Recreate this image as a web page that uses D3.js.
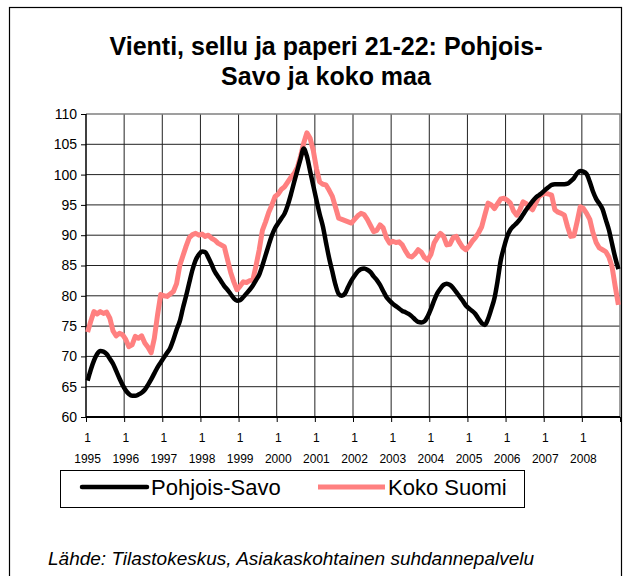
<!DOCTYPE html>
<html>
<head>
<meta charset="utf-8">
<script src="https://cdn.jsdelivr.net/npm/d3@7"></script>
<style>
  body { margin: 0; background: #fff; }
  svg { font-family: "Liberation Sans", Arial, sans-serif; }
  .axis path { display: none; }
  .axis text { fill: #000; }
</style>
</head>
<body>
<svg width="626" height="576"></svg>
<script>
// Data: monthly index values, Jan 1995 - Dec 2008
var years = [1995, 1996, 1997, 1998, 1999, 2000, 2001, 2002, 2003, 2004, 2005, 2006, 2007, 2008];
var monthLabel = "1";
var yTicks = [60, 65, 70, 75, 80, 85, 90, 95, 100, 105, 110];
var seriesNames = ["Pohjois-Savo", "Koko Suomi"];

var pohjoisSavo = [
  66.0, 67.8, 69.3, 70.4, 70.9, 70.8, 70.4, 69.6, 68.8, 67.6, 66.4, 65.3,
  64.4, 63.8, 63.5, 63.5, 63.7, 64.0, 64.5, 65.3, 66.2, 67.2, 68.2, 69.0,
  69.8, 70.6, 71.4, 72.8, 74.4, 75.8, 78.0, 80.0, 82.2, 84.3, 85.9, 86.8,
  87.3, 87.2, 86.3, 85.2, 84.0, 83.2, 82.4, 81.6, 81.0, 80.3, 79.6, 79.2,
  79.3, 79.8, 80.4, 81.0, 81.7, 82.6, 83.5, 85.0, 86.7, 88.4, 90.0, 91.2,
  92.0, 92.8, 93.6, 95.0, 96.8, 98.8, 100.7, 102.6, 104.3, 103.0, 100.6, 98.2,
  95.8, 93.5, 91.5, 88.8, 86.2, 84.0, 81.8, 80.3, 80.0, 80.4, 81.5, 82.5,
  83.3, 84.0, 84.4, 84.5, 84.3, 83.9, 83.2, 82.6, 81.8, 80.8, 79.8, 79.2,
  78.7, 78.3, 77.9, 77.5, 77.3, 77.0, 76.6, 76.1, 75.7, 75.6, 75.8, 76.6,
  77.8, 79.2, 80.4, 81.2, 81.8, 82.0, 81.8, 81.3, 80.6, 79.9, 79.2, 78.4,
  77.9, 77.5, 77.0, 76.2, 75.5, 75.2, 76.2, 77.8, 79.6, 82.5, 85.9, 88.0,
  89.8, 90.9, 91.5, 92.0, 92.6, 93.4, 94.2, 94.9, 95.6, 96.2, 96.6, 97.0,
  97.5, 97.9, 98.3, 98.4, 98.4, 98.4, 98.4, 98.5, 98.9, 99.4, 100.2, 100.6,
  100.5, 100.1, 98.8, 97.2, 96.0, 95.2, 94.3, 92.6, 90.9, 88.6, 86.3, 84.4
];

var kokoSuomi = [
  74.0, 75.8, 77.4, 77.0, 77.4, 77.1, 77.3, 76.3, 74.2, 73.4, 73.8, 73.6,
  72.8, 71.6, 71.9, 73.3, 73.0, 73.4, 72.2, 71.5, 70.6, 73.0, 76.8, 80.2,
  80.0, 79.9, 80.3, 80.7, 82.0, 85.0, 86.6, 88.2, 89.6, 90.1, 90.3, 90.0,
  90.2, 89.8, 90.0, 89.5, 89.2, 88.7, 88.4, 88.1, 86.0, 83.9, 82.3, 81.0,
  81.6, 82.3, 82.2, 82.5, 82.6, 85.0, 87.6, 90.8, 92.2, 93.8, 95.0, 96.4,
  96.8, 97.6, 98.0, 98.8, 99.6, 100.2, 101.2, 103.0, 105.2, 106.9, 106.0, 104.0,
  101.0, 98.8, 98.4, 98.3, 97.4, 96.4, 94.6, 92.8, 92.6, 92.4, 92.2, 92.0,
  92.6, 93.2, 93.6, 93.4, 92.6, 91.6, 90.6, 90.8, 91.7, 91.2, 89.6, 88.7,
  89.0, 88.8, 88.9, 88.4, 87.4, 86.6, 86.4, 86.9, 87.6, 87.2, 86.3, 85.9,
  86.8, 88.7, 89.6, 90.3, 89.8, 88.4, 88.5, 89.6, 89.8, 88.8, 88.0, 87.6,
  88.2, 89.0, 89.6, 90.4, 91.4, 93.4, 95.3, 95.0, 94.4, 95.2, 96.0, 96.1,
  95.8, 95.3, 94.0, 93.3, 94.2, 95.5, 95.2, 94.6, 94.2, 95.3, 96.4, 96.7,
  96.9, 96.8, 96.6, 94.2, 93.8, 93.6, 93.3, 91.4, 89.8, 89.9, 92.2, 94.7,
  94.4, 93.6, 92.6, 90.4, 88.8, 87.9, 87.6, 87.3, 86.4, 84.8, 81.5, 78.5
];

var svg = d3.select('svg');
var plot = {left: 86, right: 620, top: 114, bottom: 417};
var nMonths = years.length * 12;

var x = d3.scaleLinear().domain([0, nMonths]).range([plot.left, plot.right]);
var y = d3.scaleLinear().domain([60, 110]).range([plot.bottom, plot.top]);

// chart border
svg.append('rect')
  .attr('x', 9.5).attr('y', 7.5)
  .attr('width', 612).attr('height', 620)
  .attr('fill', 'none').attr('stroke', '#000').attr('stroke-width', 1.2);

// title
var title = svg.append('text')
  .attr('text-anchor', 'middle')
  .attr('font-size', 25).attr('font-weight', 'bold');
title.append('tspan').attr('x', 326).attr('y', 55).text('Vienti, sellu ja paperi 21-22: Pohjois-');
title.append('tspan').attr('x', 326).attr('y', 85).text('Savo ja koko maa');

// gridlines
var yearBounds = d3.range(0, nMonths + 1, 12);
svg.append('g').selectAll('line.h')
  .data(yTicks.slice(1, -1))
  .enter().append('line')
  .attr('x1', plot.left).attr('x2', plot.right)
  .attr('y1', function(d) { return y(d); }).attr('y2', function(d) { return y(d); })
  .attr('stroke', '#222').attr('stroke-width', 1);
svg.append('g').selectAll('line.v')
  .data(yearBounds.slice(1, -1))
  .enter().append('line')
  .attr('x1', function(d) { return x(d); }).attr('x2', function(d) { return x(d); })
  .attr('y1', plot.top).attr('y2', plot.bottom)
  .attr('stroke', '#222').attr('stroke-width', 1);

// plot border (top/right gray)
svg.append('path')
  .attr('d', 'M' + plot.left + ',' + y(110) + 'H' + plot.right + 'V' + plot.bottom)
  .attr('fill', 'none').attr('stroke', '#808080').attr('stroke-width', 1.5);

// y axis
var yAxis = d3.axisLeft(y).tickValues(yTicks).tickSize(5).tickPadding(4);
var gy = svg.append('g').attr('class', 'axis')
  .attr('transform', 'translate(' + plot.left + ',0)')
  .call(yAxis);
gy.selectAll('text').attr('font-size', 14);
gy.selectAll('line').attr('stroke', '#000');
svg.append('line')
  .attr('x1', plot.left).attr('x2', plot.left)
  .attr('y1', plot.top).attr('y2', plot.bottom)
  .attr('stroke', '#000').attr('stroke-width', 1.5);

// x axis: ticks at year boundaries, labels at January
var xTicks = d3.axisBottom(x).tickValues(yearBounds).tickSize(5).tickFormat('');
svg.append('g').attr('class', 'axis')
  .attr('transform', 'translate(0,' + plot.bottom + ')')
  .call(xTicks)
  .selectAll('line').attr('stroke', '#000');
svg.append('line')
  .attr('x1', plot.left).attr('x2', plot.right)
  .attr('y1', plot.bottom).attr('y2', plot.bottom)
  .attr('stroke', '#000').attr('stroke-width', 2);

var xLabels = svg.append('g').selectAll('text')
  .data(years)
  .enter().append('text')
  .attr('text-anchor', 'middle')
  .attr('font-size', 12);
xLabels.append('tspan')
  .attr('x', function(d, i) { return x(i * 12 + 0.5); })
  .attr('y', 442)
  .text(monthLabel);
xLabels.append('tspan')
  .attr('x', function(d, i) { return x(i * 12 + 0.5); })
  .attr('y', 463)
  .text(function(d) { return d; });

// lines
var line = d3.line()
  .x(function(d, i) { return x(i + 0.5); })
  .y(function(d) { return y(d); });

svg.append('path')
  .datum(kokoSuomi)
  .attr('d', line)
  .attr('fill', 'none')
  .attr('stroke', '#FF8080')
  .attr('stroke-width', 5)
  .attr('stroke-linejoin', 'round');

svg.append('path')
  .datum(pohjoisSavo)
  .attr('d', line.curve(d3.curveMonotoneX))
  .attr('fill', 'none')
  .attr('stroke', '#000')
  .attr('stroke-width', 4.5)
  .attr('stroke-linejoin', 'round');

// legend
var legend = svg.append('g');
legend.append('rect')
  .attr('x', 60.5).attr('y', 470.5)
  .attr('width', 464).attr('height', 37)
  .attr('fill', '#fff').attr('stroke', '#000').attr('stroke-width', 1);
legend.append('line')
  .attr('x1', 82).attr('x2', 147).attr('y1', 487).attr('y2', 487)
  .attr('stroke', '#000').attr('stroke-width', 4.5).attr('stroke-linecap', 'round');
legend.append('text')
  .attr('x', 151).attr('y', 495)
  .attr('font-size', 22)
  .text(seriesNames[0]);
legend.append('line')
  .attr('x1', 318).attr('x2', 385).attr('y1', 487).attr('y2', 487)
  .attr('stroke', '#FF8080').attr('stroke-width', 5);
legend.append('text')
  .attr('x', 388).attr('y', 495)
  .attr('font-size', 22)
  .text(seriesNames[1]);

// source
svg.append('text')
  .attr('x', 48).attr('y', 565)
  .attr('font-size', 19)
  .attr('font-style', 'italic')
  .text('Lähde: Tilastokeskus, Asiakaskohtainen suhdannepalvelu');
</script>
</body>
</html>
